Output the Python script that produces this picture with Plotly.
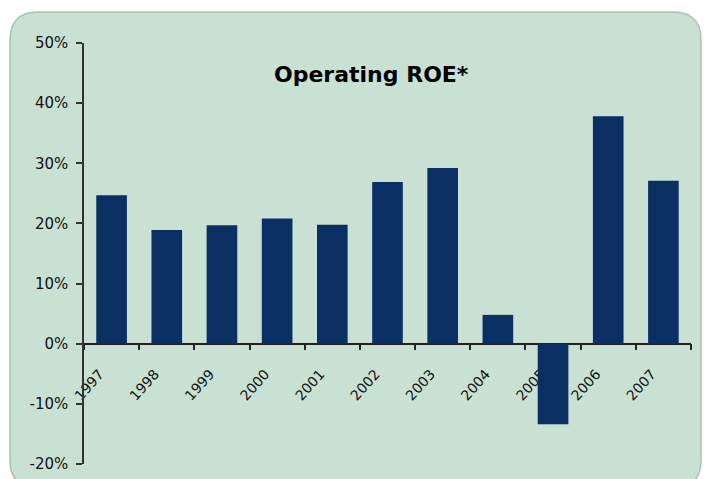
import plotly.graph_objects as go

years = ["1997", "1998", "1999", "2000", "2001", "2002", "2003", "2004", "2005", "2006", "2007"]
roe = [24.7, 18.9, 19.7, 20.8, 19.8, 26.9, 29.2, 4.8, -13.4, 37.8, 27.1]
y_ticks = [-20, -10, 0, 10, 20, 30, 40, 50]
y_labels = [f"{v}%" for v in y_ticks]
title_text = "Operating ROE*"

W, H = 704, 479
L, R, T, B = 84, 13, 43, 15
pw, ph = W - L - R, H - T - B

def px(x):
    return (x - L) / pw

def py(y):
    return (H - B - y) / ph

# rounded panel path (paper coords)
x0, x1, y0, y1, r = 10, 701, 12, 488, 28
path = (
    f"M {px(x0)},{py(y0 + r)} "
    f"Q {px(x0)},{py(y0)} {px(x0 + r)},{py(y0)} "
    f"L {px(x1 - r)},{py(y0)} "
    f"Q {px(x1)},{py(y0)} {px(x1)},{py(y0 + r)} "
    f"L {px(x1)},{py(y1 - r)} "
    f"Q {px(x1)},{py(y1)} {px(x1 - r)},{py(y1)} "
    f"L {px(x0 + r)},{py(y1)} "
    f"Q {px(x0)},{py(y1)} {px(x0)},{py(y1 - r)} Z"
)

fig = go.Figure()
fig.add_trace(go.Bar(x=years, y=roe, marker=dict(color="#0a2f62", line=dict(width=0)), hoverinfo="x+y"))

fig.update_layout(
    width=W, height=H,
    margin=dict(l=L, r=R, t=T, b=B, autoexpand=False),
    paper_bgcolor="white",
    plot_bgcolor="rgba(0,0,0,0)",
    bargap=0.445,
    showlegend=False,
    font=dict(family="DejaVu Sans, sans-serif", color="#111"),
    shapes=[dict(type="path", path=path, xref="paper", yref="paper",
                 fillcolor="#c9e1d3", line=dict(color="#a9c2b4", width=1.5), layer="below")],
    annotations=[dict(text=f"<b>{title_text}</b>", xref="paper", yref="paper",
                      x=px(371), y=py(74), xanchor="center", yanchor="middle",
                      showarrow=False, font=dict(size=22, color="#000", family="DejaVu Sans, sans-serif"))],
)
fig.update_yaxes(range=[-20, 50], tickvals=y_ticks, ticktext=y_labels, automargin=False,
                 showline=True, linecolor="#333", linewidth=1.5,
                 ticks="outside", ticklen=6, tickcolor="#333", tickwidth=1.5,
                 ticklabelstandoff=5,
                 showgrid=False, zeroline=False, tickfont=dict(size=15, color="#111"))
fig.update_xaxes(anchor="free", position=20 / 70, showline=True, linecolor="#222", linewidth=1.5,
                 automargin=False,
                 ticks="outside", tickson="boundaries", ticklen=6, tickcolor="#222", tickwidth=1.5,
                 tickangle=-48, tickfont=dict(size=14, color="#111"), showgrid=False,
                 ticklabelshift=-12, ticklabelstandoff=16,
                 layer="below traces")

fig.write_html("out.html", config={"displayModeBar": False},
               post_script="document.body.style.margin='0';")
